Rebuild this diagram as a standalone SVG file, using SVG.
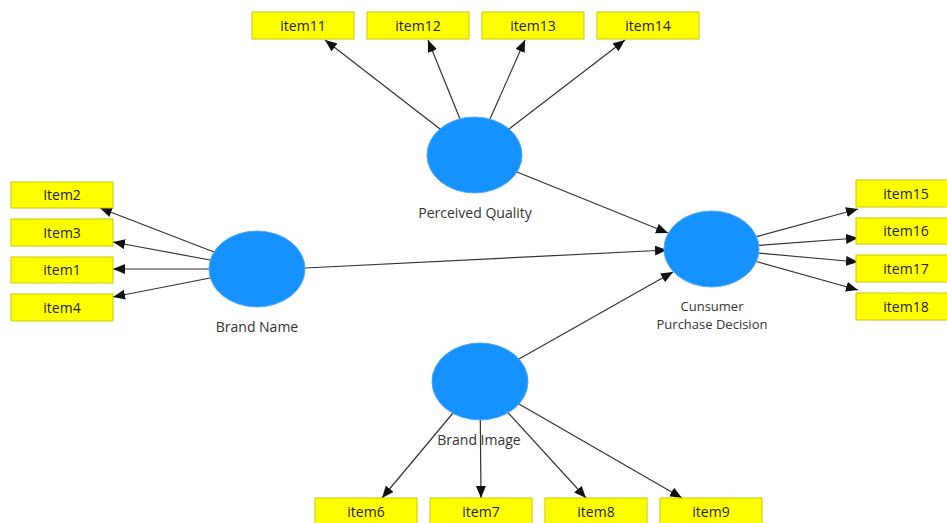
<svg xmlns="http://www.w3.org/2000/svg" width="947" height="523" viewBox="0 0 947 523">
<style>
.box{fill:#ffff00;stroke:#c9c900;stroke-width:1}
.bt{font-family:"Open Sans","Noto Sans",sans-serif;font-size:14px;fill:#222;text-anchor:middle}
.lv{fill:#1592fd;stroke:#4aa8ff;stroke-width:1}
.lb{font-family:"Open Sans","Noto Sans",sans-serif;font-size:14px;fill:#333;text-anchor:middle}
.lb2{font-family:"Open Sans","Noto Sans",sans-serif;font-size:13px;fill:#333;text-anchor:middle}
.c{stroke:#333;stroke-width:1.2;fill:none;marker-end:url(#ah)}
</style>
<defs>
<marker id="ah" markerUnits="userSpaceOnUse" markerWidth="13" markerHeight="11" refX="12" refY="5" orient="auto">
<path d="M0,0 L12,5 L0,10 z" fill="#111"/>
</marker>
</defs>
<rect width="947" height="523" fill="#fff"/>
<g id="connectors">
<line class="c" x1="440" y1="129" x2="325" y2="40"/>
<line class="c" x1="460" y1="119" x2="428" y2="40"/>
<line class="c" x1="490" y1="119" x2="525" y2="40"/>
<line class="c" x1="509" y1="129" x2="625" y2="40"/>
<line class="c" x1="517" y1="172" x2="668" y2="233"/>
<line class="c" x1="214" y1="252" x2="100" y2="208"/>
<line class="c" x1="210" y1="260" x2="113" y2="242"/>
<line class="c" x1="209" y1="269" x2="113" y2="269"/>
<line class="c" x1="210" y1="278" x2="113" y2="297"/>
<line class="c" x1="305" y1="268" x2="667" y2="250"/>
<line class="c" x1="756.5" y1="236.7" x2="858" y2="209"/>
<line class="c" x1="759" y1="245.4" x2="858" y2="238"/>
<line class="c" x1="759" y1="253.2" x2="858" y2="262"/>
<line class="c" x1="756.3" y1="261.5" x2="858" y2="290"/>
<line class="c" x1="519" y1="359" x2="673" y2="272"/>
<line class="c" x1="453" y1="413" x2="382" y2="498"/>
<line class="c" x1="480.3" y1="420" x2="481" y2="498"/>
<line class="c" x1="508" y1="412.6" x2="586" y2="498"/>
<line class="c" x1="519" y1="404" x2="682" y2="498"/>
</g>
<g id="perceived-quality"><ellipse class="lv" cx="474.5" cy="155" rx="47.5" ry="38"/><text class="lb" x="475" y="218">Perceived Quality</text></g>
<g id="brand-name"><ellipse class="lv" cx="257" cy="269" rx="48" ry="38"/><text class="lb" x="257" y="332">Brand Name</text></g>
<g id="consumer-decision"><ellipse class="lv" cx="711.5" cy="249" rx="47.5" ry="38"/><text class="lb2" x="712" y="311">Cunsumer</text><text class="lb2" x="712" y="329">Purchase Decision</text></g>
<g id="brand-image"><ellipse class="lv" cx="480" cy="381.5" rx="48" ry="38.5"/><text class="lb" x="479" y="445">Brand Image</text></g>
<g id="item11"><rect class="box" x="252" y="12" width="102" height="27"/><text class="bt" x="303" y="31">item11</text></g>
<g id="item12"><rect class="box" x="367" y="12" width="102" height="27"/><text class="bt" x="418" y="31">item12</text></g>
<g id="item13"><rect class="box" x="482" y="12" width="102" height="27"/><text class="bt" x="533" y="31">item13</text></g>
<g id="item14"><rect class="box" x="597" y="12" width="102" height="27"/><text class="bt" x="648" y="31">item14</text></g>
<g id="item2"><rect class="box" x="11" y="182" width="102" height="26"/><text class="bt" x="62" y="200">Item2</text></g>
<g id="item3"><rect class="box" x="11" y="219" width="102" height="27"/><text class="bt" x="62" y="238">Item3</text></g>
<g id="item1"><rect class="box" x="11" y="257" width="102" height="26"/><text class="bt" x="62" y="275">item1</text></g>
<g id="item4"><rect class="box" x="11" y="294" width="102" height="27"/><text class="bt" x="62" y="313">item4</text></g>
<g id="item15"><rect class="box" x="856" y="180" width="102" height="27"/><text class="bt" x="906" y="199">item15</text></g>
<g id="item16"><rect class="box" x="856" y="218" width="102" height="26"/><text class="bt" x="906" y="236">item16</text></g>
<g id="item17"><rect class="box" x="856" y="255" width="102" height="27"/><text class="bt" x="906" y="274">item17</text></g>
<g id="item18"><rect class="box" x="856" y="293" width="102" height="27"/><text class="bt" x="906" y="312">item18</text></g>
<g id="item6"><rect class="box" x="315" y="498" width="102" height="27"/><text class="bt" x="366" y="517">item6</text></g>
<g id="item7"><rect class="box" x="430" y="498" width="102" height="27"/><text class="bt" x="481" y="517">item7</text></g>
<g id="item8"><rect class="box" x="545" y="498" width="102" height="27"/><text class="bt" x="596" y="517">item8</text></g>
<g id="item9"><rect class="box" x="660" y="498" width="102" height="27"/><text class="bt" x="711" y="517">item9</text></g>
</svg>
